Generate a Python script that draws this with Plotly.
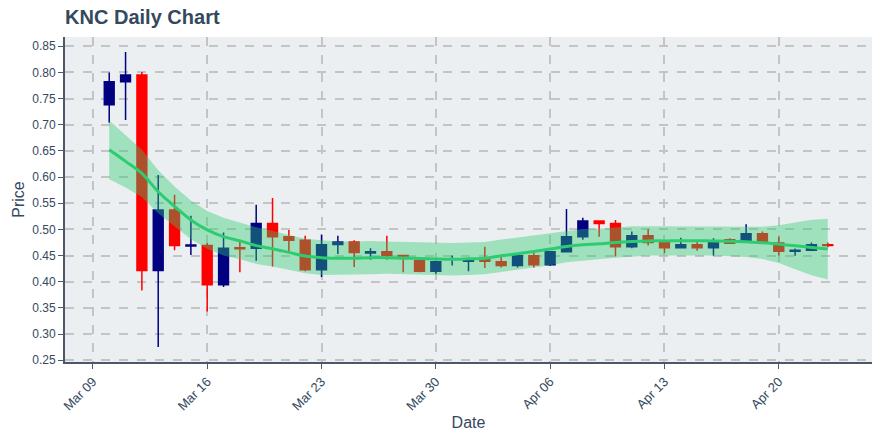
import pandas as pd
import plotly.graph_objects as go

dates = pd.date_range("2020-03-10", "2020-04-23", freq="D")

open_ = [0.738, 0.782, 0.795, 0.4215, 0.537, 0.468, 0.469, 0.394, 0.465, 0.464,
         0.511, 0.486, 0.479, 0.423, 0.471, 0.476, 0.455, 0.457, 0.450, 0.440,
         0.420, 0.443, 0.439, 0.442, 0.438, 0.431, 0.4495, 0.4325, 0.457, 0.486,
         0.516, 0.511, 0.467, 0.488, 0.475, 0.465, 0.4705, 0.465, 0.480, 0.477,
         0.4915, 0.474, 0.458, 0.460, 0.4705]
high = [0.800, 0.839, 0.801, 0.604, 0.566, 0.526, 0.474, 0.494, 0.480, 0.547,
        0.560, 0.499, 0.488, 0.490, 0.488, 0.479, 0.464, 0.488, 0.451, 0.441,
        0.440, 0.450, 0.444, 0.467, 0.448, 0.450, 0.456, 0.458, 0.539, 0.522,
        0.517, 0.518, 0.496, 0.500, 0.476, 0.484, 0.476, 0.483, 0.483, 0.510,
        0.496, 0.486, 0.4635, 0.475, 0.475]
low = [0.704, 0.709, 0.383, 0.275, 0.460, 0.451, 0.343, 0.390, 0.418, 0.440,
       0.429, 0.455, 0.420, 0.409, 0.453, 0.428, 0.442, 0.442, 0.418, 0.418,
       0.415, 0.431, 0.420, 0.426, 0.427, 0.427, 0.427, 0.430, 0.456, 0.480,
       0.486, 0.448, 0.464, 0.469, 0.455, 0.4635, 0.459, 0.450, 0.473, 0.476,
       0.474, 0.450, 0.4495, 0.459, 0.466]
close = [0.782, 0.795, 0.4215, 0.537, 0.469, 0.470, 0.394, 0.464, 0.463, 0.511,
         0.486, 0.479, 0.423, 0.4705, 0.476, 0.456, 0.457, 0.450, 0.449, 0.420,
         0.438, 0.444, 0.443, 0.439, 0.431, 0.4495, 0.4325, 0.457, 0.486, 0.516,
         0.511, 0.467, 0.488, 0.475, 0.465, 0.4705, 0.465, 0.476, 0.4737, 0.4915,
         0.475, 0.458, 0.460, 0.4705, 0.469]

trend = [0.652, 0.630, 0.607, 0.572, 0.544, 0.518, 0.499, 0.486, 0.478, 0.469,
         0.463, 0.456, 0.449, 0.446, 0.445, 0.445, 0.446, 0.446, 0.445, 0.4445,
         0.4435, 0.443, 0.4438, 0.445, 0.4495, 0.4534, 0.4578, 0.4623, 0.4673, 0.4705,
         0.4724, 0.475, 0.4768, 0.478, 0.478, 0.4783, 0.4783, 0.478, 0.4775, 0.4762,
         0.4742, 0.4718, 0.4686, 0.4655, 0.4623]
band_upper = [0.708, 0.680, 0.652, 0.613, 0.582, 0.555, 0.535, 0.522, 0.513, 0.504,
              0.497, 0.490, 0.482, 0.479, 0.477, 0.477, 0.478, 0.477, 0.476, 0.4755,
              0.4745, 0.474, 0.4748, 0.476, 0.4805, 0.4844, 0.4888, 0.4933, 0.4973, 0.5005,
              0.5014, 0.504, 0.5058, 0.506, 0.506, 0.5063, 0.5063, 0.506, 0.5065, 0.5052,
              0.5052, 0.5078, 0.5136, 0.5185, 0.5203]
band_lower = [0.596, 0.580, 0.562, 0.531, 0.506, 0.481, 0.463, 0.450, 0.443, 0.434,
              0.429, 0.422, 0.416, 0.413, 0.413, 0.413, 0.414, 0.415, 0.414, 0.4135,
              0.4125, 0.412, 0.4128, 0.414, 0.4185, 0.4224, 0.4268, 0.4313, 0.4373, 0.4405,
              0.4434, 0.446, 0.4478, 0.450, 0.450, 0.4503, 0.4503, 0.450, 0.4485, 0.4472,
              0.4432, 0.4358, 0.4236, 0.4125, 0.4043]

fig = go.Figure()
fig.add_trace(go.Candlestick(
    x=dates, open=open_, high=high, low=low, close=close,
    increasing=dict(line=dict(color="#000080", width=1.5), fillcolor="#000080"),
    decreasing=dict(line=dict(color="#ff0000", width=1.5), fillcolor="#ff0000"),
    whiskerwidth=0, showlegend=False, hoverinfo="skip",
))
fig.add_trace(go.Scatter(x=dates, y=band_upper, mode="lines", line=dict(width=0),
                         showlegend=False, hoverinfo="skip"))
fig.add_trace(go.Scatter(x=dates, y=band_lower, mode="lines", line=dict(width=0),
                         fill="tonexty", fillcolor="rgba(46,204,113,0.4)",
                         showlegend=False, hoverinfo="skip"))
fig.add_trace(go.Scatter(x=dates, y=trend, mode="lines",
                         line=dict(color="#2ecc71", width=3, shape="spline"),
                         showlegend=False, hoverinfo="skip"))

axis_col = "#34495e"
fig.update_layout(
    width=880, height=440,
    margin=dict(l=65, r=8, t=37, b=78),
    paper_bgcolor="white", plot_bgcolor="#eceff1",
    font=dict(family="Liberation Sans, Arial, sans-serif", size=12, color=axis_col),
    title=dict(text="<b>KNC Daily Chart</b>", x=0.074, xanchor="left", y=0.962, yanchor="middle",
               font=dict(size=20, color="#34495e")),
    boxgap=0.14,
    xaxis=dict(
        title=dict(text="Date", font=dict(size=16), standoff=4),
        automargin=False,
        range=["2020-03-07 07:00", "2020-04-25 17:00"],
        tick0="2020-03-09", dtick=7 * 86400000, tickformat="%b %d", tickangle=-45,
        tickfont=dict(size=13),
        showgrid=True, gridcolor="#c4c4c4", griddash="dash", gridwidth=1.5,
        showline=True, linecolor="#4a5868", linewidth=2,
        ticks="outside", ticklen=5, tickcolor="#4a5868",
        rangeslider=dict(visible=False), zeroline=False,
    ),
    yaxis=dict(
        title=dict(text="Price", font=dict(size=16), standoff=4),
        automargin=False,
        range=[0.2465, 0.8677], dtick=0.05, tick0=0, tickformat=".2f",
        showgrid=True, gridcolor="#c4c4c4", griddash="dash", gridwidth=1.5,
        showline=True, linecolor="#4a5868", linewidth=2,
        ticks="outside", ticklen=5, tickcolor="#4a5868", zeroline=False,
    ),
)

fig.write_html("out.html", config={"displayModeBar": False},
               post_script="document.body.style.margin='0';")
